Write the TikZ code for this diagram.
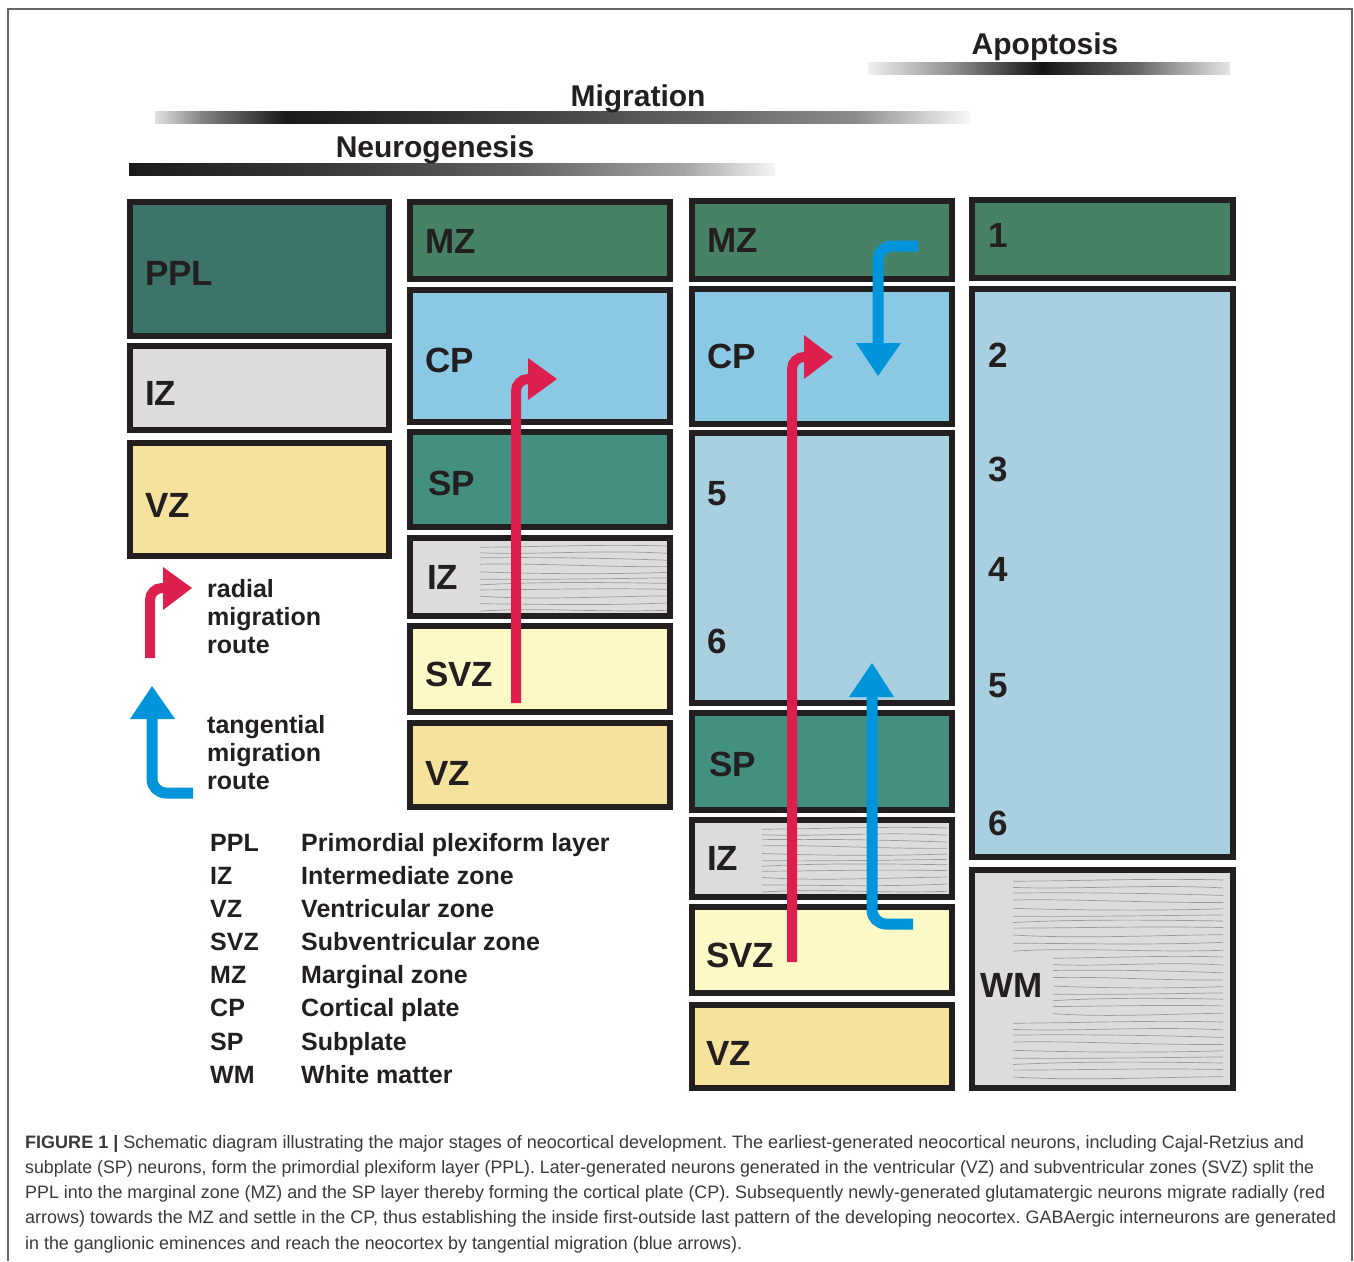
\documentclass[tikz,border=0pt]{standalone}
\usepackage{fontspec}
\setmainfont{Liberation Sans}
\usepackage{graphicx}
\frenchspacing
\definecolor{ink}{HTML}{231F20}
\definecolor{cppl}{HTML}{3D7469}
\definecolor{cmz}{HTML}{478266}
\definecolor{ccp}{HTML}{8AC8E3}
\definecolor{clay}{HTML}{A8D0E0}
\definecolor{csp}{HTML}{438F80}
\definecolor{ciz}{HTML}{DCDCDC}
\definecolor{cvz}{HTML}{F5E29D}
\definecolor{csvz}{HTML}{FDF9C6}
\definecolor{cred}{HTML}{DC1F4D}
\definecolor{cblue}{HTML}{0095DA}
\definecolor{captxt}{HTML}{3A3A3A}
\pgfdeclarehorizontalshading{neuro}{100bp}{color(0bp)=(black!90); color(25bp)=(black!90); color(40bp)=(black!78); color(55bp)=(black!62); color(68bp)=(black!35); color(75bp)=(black!4); color(100bp)=(black!4)}
\pgfdeclarehorizontalshading{migr}{100bp}{color(0bp)=(black!12); color(25bp)=(black!12); color(28bp)=(black!50); color(33bp)=(black!90); color(45bp)=(black!78); color(58bp)=(black!62); color(68bp)=(black!45); color(72bp)=(black!20); color(75bp)=(black!3); color(100bp)=(black!3)}
\pgfdeclarehorizontalshading{apop}{100bp}{color(0bp)=(black!6); color(25bp)=(black!6); color(37bp)=(black!45); color(49bp)=(black!92); color(62bp)=(black!60); color(75bp)=(black!10); color(100bp)=(black!10)}
\newsavebox\capsbox
\newlength\capslen
\newcommand\fitline[2]{\sbox\capsbox{#2}\setlength\capslen{\wd\capsbox}\pgfmathsetmacro\capsc{#1/\capslen}\scalebox{\capsc}[1]{\usebox\capsbox}}
\newcommand\stripes[5]{%
  \foreach \i in {0,...,#5}{%
    \pgfmathsetmacro\yy{#3+\i*#4}%
    \draw[stripe] (#1,{\yy+1.2*cos(\i*71)}) .. controls ({#1+(#2-#1)*0.3},{\yy+3*sin(\i*97+20)}) and ({#1+(#2-#1)*0.65},{\yy-3*sin(\i*61+40)}) .. (#2,{\yy+1.5*sin(\i*37)});
  }}
\begin{document}
\begin{tikzpicture}[x=1pt,y=-1pt,
  box/.style={draw=ink, line width=5.5pt},
  stripe/.style={draw=black!40, line width=0.7pt},
  lab/.style={anchor=west, inner sep=0pt, font=\fontsize{35}{40}\selectfont\bfseries, text=ink},
  head/.style={anchor=base, inner sep=0pt, font=\fontsize{30}{34}\selectfont\bfseries, text=ink},
  leg/.style={anchor=base west, inner sep=0pt, font=\fontsize{25}{28}\selectfont\bfseries, text=ink},
  captext/.style={anchor=base west, inner sep=0pt, font=\fontsize{18}{22}\selectfont, text=captxt},
  redarr/.style={draw=cred, line width=10pt, rounded corners=12pt},
  bluearr/.style={draw=cblue, line width=11pt, rounded corners=14pt}]
\useasboundingbox (0,0) rectangle (1354,1261);
\fill[white] (0,0) rectangle (1354,1261);
% frame
\draw[black!60, line width=1.2pt] (8,1261) -- (8,9) -- (1352,9) -- (1352,1261);
% stage bars
\shade[shading=apop] (868,62) rectangle (1230,74);
\shade[shading=migr] (155,111) rectangle (970,123);
\shade[shading=neuro] (129,163) rectangle (775,175);
\node[head] (hapop) at (1045,54) {Apoptosis};
\node[head] (hmigr) at (638,106) {Migration};
\node[head] (hneuro) at (435,157) {Neurogenesis};
% column 1
\draw[box, fill=cppl] (130,202) rectangle (389,336);
\draw[box, fill=ciz] (130,346) rectangle (389,430);
\draw[box, fill=cvz] (130,443) rectangle (389,556);
% column 2
\draw[box, fill=cmz] (410,202) rectangle (670,279);
\draw[box, fill=ccp] (410,290) rectangle (670,422);
\draw[box, fill=csp] (410,432) rectangle (670,527);
\draw[box, fill=ciz] (410,538) rectangle (670,616);
\draw[box, fill=csvz] (410,626) rectangle (670,712);
\draw[box, fill=cvz] (410,723) rectangle (670,807);
% column 3
\draw[box, fill=cmz] (692,201) rectangle (952,279);
\draw[box, fill=ccp] (692,289) rectangle (952,424);
\draw[box, fill=clay] (692,433) rectangle (952,703);
\draw[box, fill=csp] (692,713) rectangle (952,810);
\draw[box, fill=ciz] (692,820) rectangle (952,897);
\draw[box, fill=csvz] (692,907) rectangle (952,993);
\draw[box, fill=cvz] (692,1005) rectangle (952,1088);
% column 4
\draw[box, fill=cmz] (972,200) rectangle (1233,278);
\draw[box, fill=clay] (972,289) rectangle (1233,857);
\draw[box, fill=ciz] (972,870) rectangle (1233,1088);
% fibre stripes
\stripes{480}{667}{546}{6.4}{10}
\stripes{762}{947}{828}{6.3}{10}
\stripes{1013}{1223}{880}{7}{10}
\stripes{1053}{1223}{957}{7.2}{8}
\stripes{1013}{1223}{1022}{7}{8}
% labels
\node[lab] (l1a) at (145,273) {PPL};
\node[lab] (l1b) at (145,393) {IZ};
\node[lab] (l1c) at (145,505) {VZ};
\node[lab] (l2a) at (425,241) {MZ};
\node[lab] (l2b) at (425,360) {CP};
\node[lab] (l2c) at (428,483) {SP};
\node[lab] (l2d) at (427,577) {IZ};
\node[lab] (l2e) at (425,674) {SVZ};
\node[lab] (l2f) at (425,773) {VZ};
\node[lab] (l3a) at (707,240) {MZ};
\node[lab] (l3b) at (707,356) {CP};
\node[lab] (l3c) at (707,494) {5};
\node[lab] (l3d) at (707,641) {6};
\node[lab] (l3e) at (709,764) {SP};
\node[lab] (l3f) at (707,858) {IZ};
\node[lab] (l3g) at (706,955) {SVZ};
\node[lab] (l3h) at (706,1053) {VZ};
\node[lab] (l4a) at (988,235) {1};
\node[lab] (l4b) at (988,355) {2};
\node[lab] (l4c) at (988,469) {3};
\node[lab] (l4d) at (988,569) {4};
\node[lab] (l4e) at (988,686) {5};
\node[lab] (l4f) at (988,823) {6};
\node[lab] (l4g) at (980,985) {WM};
% arrows column 2
\draw[redarr] (516,703) -- (516,379) -- (532,379);
\fill[cred] (528,358) -- (557,379) -- (528,400) -- cycle;
% arrows column 3
\draw[redarr] (792,962) -- (792,357) -- (808,357);
\fill[cred] (804,335) -- (833,357) -- (804,379) -- cycle;
\draw[bluearr] (918,246) -- (878,246) -- (878,346);
\fill[cblue] (856,343) -- (901,343) -- (878,376) -- cycle;
\draw[bluearr] (913,924) -- (872,924) -- (872,694);
\fill[cblue] (849,697) -- (894,697) -- (872,663) -- cycle;
% legend arrows
\draw[redarr] (150,658) -- (150,588) -- (167,588);
\fill[cred] (163,567) -- (192,588) -- (163,610) -- cycle;
\draw[bluearr] (193,793) -- (152,793) -- (152,716);
\fill[cblue] (130,719) -- (175,719) -- (152,686) -- cycle;
% legend text
\node[leg] (r1) at (207,597) {radial};
\node[leg] (r2) at (207,625) {migration};
\node[leg] (r3) at (207,653) {route};
\node[leg] (t1) at (207,733) {tangential};
\node[leg] (t2) at (207,761) {migration};
\node[leg] (t3) at (207,789) {route};
% abbreviations
\node[leg] (a1) at (210,851) {PPL};   \node[leg] (b1) at (301,851) {Primordial plexiform layer};
\node[leg] (a2) at (210,884) {IZ};    \node[leg] (b2) at (301,884) {Intermediate zone};
\node[leg] (a3) at (210,917) {VZ};    \node[leg] (b3) at (301,917) {Ventricular zone};
\node[leg] (a4) at (210,950) {SVZ};   \node[leg] (b4) at (301,950) {Subventricular zone};
\node[leg] (a5) at (210,983) {MZ};    \node[leg] (b5) at (301,983) {Marginal zone};
\node[leg] (a6) at (210,1016) {CP};   \node[leg] (b6) at (301,1016) {Cortical plate};
\node[leg] (a7) at (210,1050) {SP};   \node[leg] (b7) at (301,1050) {Subplate};
\node[leg] (a8) at (210,1083) {WM};   \node[leg] (b8) at (301,1083) {White matter};
% caption
\node[captext] (c1) at (25,1148) {\fitline{1279}{\textbf{FIGURE 1 |} Schematic diagram illustrating the major stages of neocortical development. The earliest-generated neocortical neurons, including Cajal-Retzius and}};
\node[captext] (c2) at (25,1173) {\fitline{1289}{subplate (SP) neurons, form the primordial plexiform layer (PPL). Later-generated neurons generated in the ventricular (VZ) and subventricular zones (SVZ) split the}};
\node[captext] (c3) at (25,1198) {\fitline{1300}{PPL into the marginal zone (MZ) and the SP layer thereby forming the cortical plate (CP). Subsequently newly-generated glutamatergic neurons migrate radially (red}};
\node[captext] (c4) at (25,1223) {\fitline{1311}{arrows) towards the MZ and settle in the CP, thus establishing the inside first-outside last pattern of the developing neocortex. GABAergic interneurons are generated}};
\node[captext] (c5) at (25,1249) {\fitline{717}{in the ganglionic eminences and reach the neocortex by tangential migration (blue arrows).}};
\end{tikzpicture}
\end{document}
